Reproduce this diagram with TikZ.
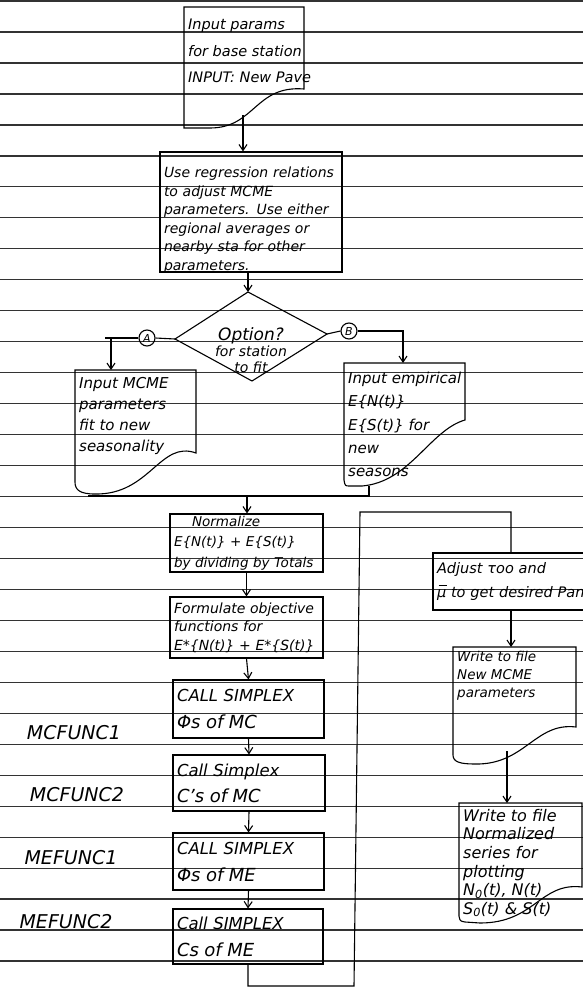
\documentclass[tikz,border=0pt]{standalone}
\usepackage{fontspec}
\setmainfont{DejaVu Sans}
\usetikzlibrary{arrows.meta,calc}
\newcommand{\barmu}{\leavevmode\rlap{\hspace{0.12em}\raisebox{0.78em}{\rule{0.55em}{0.07em}}}μ}
\tikzset{
  rule/.style={black!80, line width=1.3pt},
  ink/.style={black, line width=1.1pt},
  arr/.style={ink, -{Straight Barb[length=6pt,width=8pt]}},
  box/.style={ink, draw, rectangle, inner xsep=4pt, inner ysep=2pt, align=left},
  doctext/.style={anchor=north west, align=left, inner sep=2pt},
  sidelabel/.style={font=\itshape\fontsize{19}{19}\selectfont},
  circ/.style={ink, draw, circle, minimum size=16pt, inner sep=0pt, font=\itshape\fontsize{11}{11}\selectfont}
}
\begin{document}
\begin{tikzpicture}[x=1pt,y=-1pt]
\useasboundingbox (0,0) rectangle (583,988);
\fill[white] (0,0) rectangle (583,988);
% ruled paper
\foreach \k in {0,...,31} \draw[rule] (0,{1+30.97*\k}) -- (583,{1+30.97*\k});

% input document
\draw[ink] (184,7) -- (304,7) -- (304,89) .. controls (255,85) and (255,128) .. (210,128) -- (184,128) -- cycle;
\node[doctext, font=\itshape\fontsize{14.5}{26.5}\selectfont] (inp) at (186,17) {Input params\\for base station\\INPUT: New Pave};
\coordinate (inpw) at (243,115);

% regression box
\node[box, minimum width=182pt, minimum height=120pt, text width=174pt, inner ysep=0pt,
      font=\itshape\fontsize{14}{18.6}\selectfont] (reg) at (251,212)
 {\rule{0pt}{24pt}Use regression relations\\to adjust MCME\\parameters. Use either\\regional averages or\\nearby sta for other\\\smash{parameters.}};
\draw[arr] (inpw) -- (inpw |- reg.north);

% decision (outline through named corners, text node in the middle)
\coordinate (dn) at (248,292);
\coordinate (dw) at (175,339);
\coordinate (de) at (327,334);
\coordinate (ds) at (252,381);
\draw[ink] (dn) -- (de) -- (ds) -- (dw) -- cycle;
\node[align=center, inner sep=1pt, font=\itshape\fontsize{14}{16}\selectfont] (dia) at (251,350)
 {{\fontsize{17}{16}\selectfont Option?}\\for station\\to fit};
\draw[arr] (dn |- reg.south) -- (dn);

\node[circ] (A) at (147,338) {A};
\node[circ] (B) at (349,331) {B};
\coordinate (jaend) at (105,338);
\coordinate (ja) at (111,338);
\coordinate (mcmetop) at (111,370);
\coordinate (jb) at (403,331);
\coordinate (emptop) at (403,363);
\draw[ink] (dw) -- (A.east);
\draw[ink] (A.west) -- (jaend);
\draw[arr] (ja) -- (mcmetop);
\draw[ink] (de) -- (B.west);
\draw[arr] (B.east) -- (jb) -- (emptop);

% left document
\draw[ink] (75,370) -- (196,370) -- (196,453) .. controls (160,440) and (150,495) .. (95,494) .. controls (80,494) and (75,490) .. (75,482) -- cycle;
\node[doctext, font=\itshape\fontsize{15}{21}\selectfont] (mcme) at (77,375) {Input MCME\\parameters\\fit to new\\seasonality};

% right document
\draw[ink] (344,363) -- (465,363) -- (465,420) .. controls (430,430) and (410,482) .. (362,486) -- (350,486) .. controls (345,486) .. (344,480) -- cycle;
\node[doctext, font=\itshape\fontsize{15}{23.3}\selectfont] (emp) at (346,370) {Input empirical\\E\{N(t)\}\\E\{S(t)\} for\\new\\seasons};

% merge
\coordinate (empb) at (369,486);
\coordinate (mR) at (369,496);
\coordinate (mL) at (88,496);
\coordinate (mM) at (247,496);
\draw[ink] (empb) -- (mR) -- (mL);

% main column
\node[box, minimum width=153pt, minimum height=58pt, text width=145pt,
      font=\itshape\fontsize{13.5}{20.5}\selectfont] (norm) at (246.5,543)
 {\hspace*{18pt}Normalize\\E\{N(t)\} + E\{S(t)\}\\by dividing by Totals};
\node[box, minimum width=153pt, minimum height=61pt, text width=145pt,
      font=\itshape\fontsize{14}{18.5}\selectfont] (form) at (246.5,627.5)
 {Formulate objective\\functions for\\E*\{N(t)\} + E*\{S(t)\}};
\node[box, minimum width=151pt, minimum height=58pt, text width=143pt,
      font=\itshape\fontsize{16.5}{27}\selectfont] (s1) at (248.5,709)
 {CALL SIMPLEX\\{\fontsize{18}{27}\selectfont Φs of MC}};
\node[box, minimum width=152pt, minimum height=56pt, text width=144pt,
      font=\itshape\fontsize{16.5}{26}\selectfont] (s2) at (249,783)
 {Call Simplex\\{\fontsize{18}{26}\selectfont C's of MC}};
\node[box, minimum width=151pt, minimum height=57pt, text width=143pt,
      font=\itshape\fontsize{16.5}{27}\selectfont] (s3) at (248.5,861.5)
 {CALL SIMPLEX\\{\fontsize{18}{27}\selectfont Φs of ME}};
\node[box, minimum width=150pt, minimum height=55pt, text width=142pt,
      font=\itshape\fontsize{16.5}{27}\selectfont] (s4) at (248,936.5)
 {Call SIMPLEX\\{\fontsize{18}{27}\selectfont Cs of ME}};

\draw[arr] (mM) -- (mM |- norm.north);
\draw[arr] (norm.south) -- (form.north);
\draw[arr] (form.south) -- (s1.north);
\draw[arr] (s1.south) -- (s2.north);
\draw[arr] (s2.south) -- (s3.north);
\draw[arr] (s3.south) -- (s4.north);

% side labels
\node[sidelabel] (mc1) at (74,733) {MCFUNC1};
\node[sidelabel] (mc2) at (77,795) {MCFUNC2};
\node[sidelabel] (me1) at (71,858) {MEFUNC1};
\node[sidelabel] (me2) at (66,922) {MEFUNC2};

% right column
\node[box, minimum width=156pt, minimum height=57pt, text width=148pt,
      font=\itshape\fontsize{14.5}{24}\selectfont] (adj) at (511,581.5)
 {\mbox{Adjust τoo and}\\\mbox{\barmu{} to get desired Pan}};

\coordinate (lp1) at (248,986);
\coordinate (lp2) at (354,986);
\coordinate (lp3) at (360,512);
\coordinate (lp4) at (511,512);
\draw[ink] (s4.south) -- (lp1) -- (lp2) -- (lp3) -- (lp4) -- (adj.north);

\draw[ink] (453,647) -- (576,647) -- (576,727) .. controls (535,722) and (525,765) .. (475,764) .. controls (460,764) and (453,762) .. (453,755) -- cycle;
\node[doctext, font=\itshape\fontsize{13.5}{18}\selectfont] (w1) at (455,649) {Write to file\\New MCME\\parameters};
\coordinate (w1top) at (511,647);
\draw[arr] (adj.south) -- (w1top);

\draw[ink] (459,803) -- (582,803) -- (582,887) .. controls (540,882) and (535,923) .. (480,923) -- (465,922) .. controls (460,921) .. (459,916) -- cycle;
\node[doctext, font=\itshape\fontsize{16}{18.6}\selectfont] (w2) at (461,807)
 {Write to file\\Normalized\\series for\\plotting\\N\textsubscript{0}(t), N(t)\\S\textsubscript{0}(t) \& S(t)};
\coordinate (w1w) at (507,751);
\coordinate (w2top) at (507,803);
\draw[arr] (w1w) -- (w2top);
\end{tikzpicture}
\end{document}
